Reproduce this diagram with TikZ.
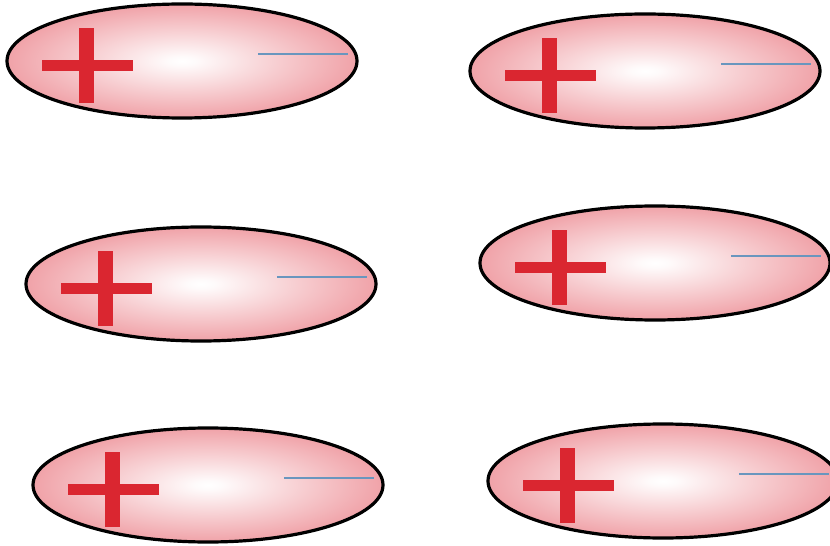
\documentclass[tikz,border=0pt]{standalone}
\usetikzlibrary{shapes.geometric}
\definecolor{cellpink}{RGB}{240,162,168}
\definecolor{plusred}{RGB}{218,38,48}
\definecolor{minusblue}{RGB}{105,150,190}
\pgfdeclareradialshading{cellglow}{\pgfpoint{0bp}{0bp}}{color(0bp)=(white); color(2bp)=(white!95!cellpink); color(14bp)=(white!45!cellpink); color(25bp)=(cellpink); color(50bp)=(cellpink)}
\tikzset{
  cell/.style={ellipse, draw=black, line width=3.2bp, inner sep=0pt,
    minimum width=350bp, minimum height=114bp, shading=cellglow},
  plusbar/.style={fill=plusred},
  minusline/.style={draw=minusblue, line width=2bp}
}
\begin{document}
\begin{tikzpicture}[x=1bp,y=-1bp]
\useasboundingbox (0,0) rectangle (830,546);
\clip (0,0) rectangle (830,546);
\foreach \n/\cx/\cy in {1/182/61, 2/645/71, 3/201/284, 4/655/263, 5/208/485, 6/663/481}{
  \node[cell] (e\n) at (\cx,\cy) {};
  \fill[plusbar] ([shift={(-140,-1)}]e\n.center) rectangle ([shift={(-49,10)}]e\n.center);
  \fill[plusbar] ([shift={(-103,-33)}]e\n.center) rectangle ([shift={(-88,42)}]e\n.center);
  \draw[minusline] ([shift={(76,-7)}]e\n.center) -- ([shift={(166,-7)}]e\n.center);
}
\end{tikzpicture}
\end{document}
